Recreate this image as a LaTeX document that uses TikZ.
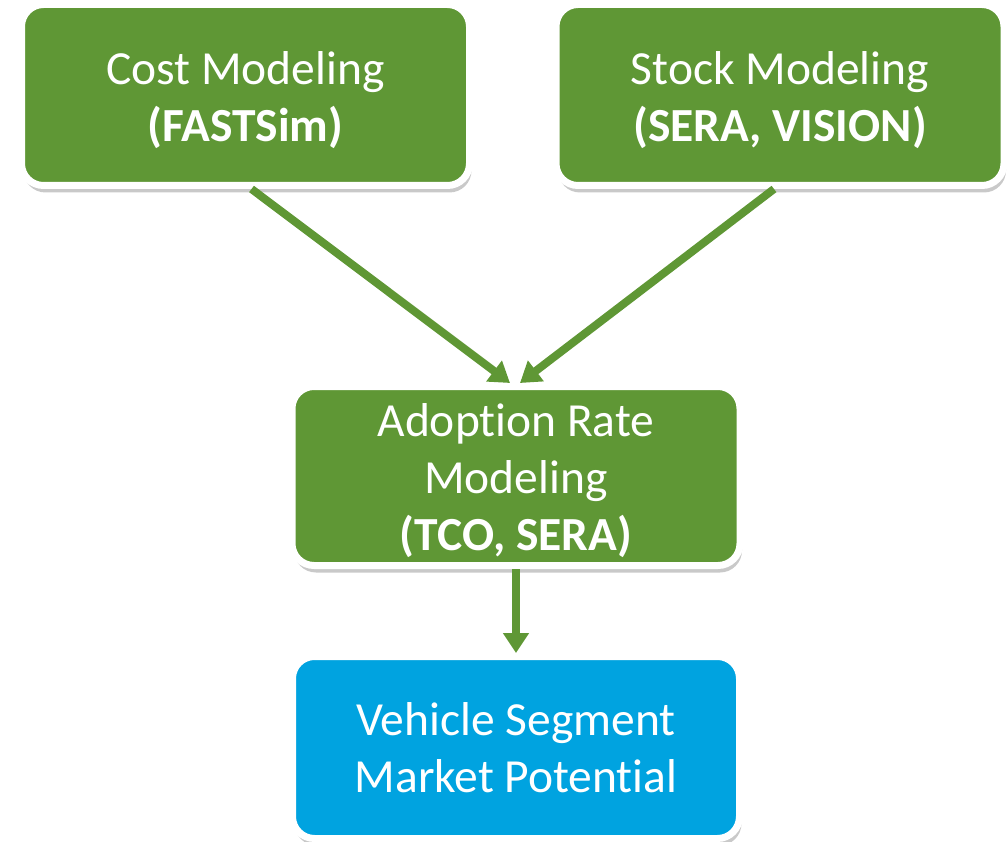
\documentclass[tikz,border=0pt]{standalone}
\usepackage{fontspec}
\setmainfont[Ligatures={NoCommon},RawFeature={-liga;-dlig;-calt}]{Carlito}
\usetikzlibrary{arrows.meta,shadows}
\definecolor{boxgreen}{RGB}{95,151,53}
\definecolor{boxblue}{RGB}{0,163,224}
\newcommand{\topstrut}{\rule{0pt}{43pt}}
\begin{document}
\begin{tikzpicture}[x=1pt,y=-1pt,
 box/.style={rounded corners=22pt, draw=white, line width=7pt, text=white, align=center,
   minimum width=448pt, minimum height=181pt, inner sep=0pt,
   font=\fontsize{47.5}{57}\selectfont,
   drop shadow={shadow xshift=2pt, shadow yshift=-7pt, opacity=0.3, fill=black!70}},
 greenbox/.style={box, fill=boxgreen},
 bluebox/.style={box, fill=boxblue},
 conn/.style={draw=boxgreen, line width=8pt, -{Triangle[length=20pt,width=25pt]}}]
\useasboundingbox (0,0) rectangle (1007,842);
\node[greenbox] (cost) at (245.5,95) {\topstrut Cost Modeling\\\textbf{(FASTSim)}};
\node[greenbox] (stock) at (780,95) {\topstrut Stock Modeling\\\textbf{(SERA, VISION)}};
\node[greenbox, minimum height=179pt] (adopt) at (516,476) {\topstrut Adopt\kern0pt ion Rate\\Modeling\\\textbf{(TCO, SERA)}};
\node[bluebox, minimum height=182pt, minimum width=447pt] (veh) at (516,747.5) {Vehicle Segment\\Market Potent\kern0pt ial};
\draw[conn] ([xshift=6pt]cost.south) -- ([xshift=-6pt]adopt.north);
\draw[conn] ([xshift=-6pt]stock.south) -- ([xshift=4pt]adopt.north);
\draw[conn] (adopt.south) -- (veh.north);
\end{tikzpicture}
\end{document}
